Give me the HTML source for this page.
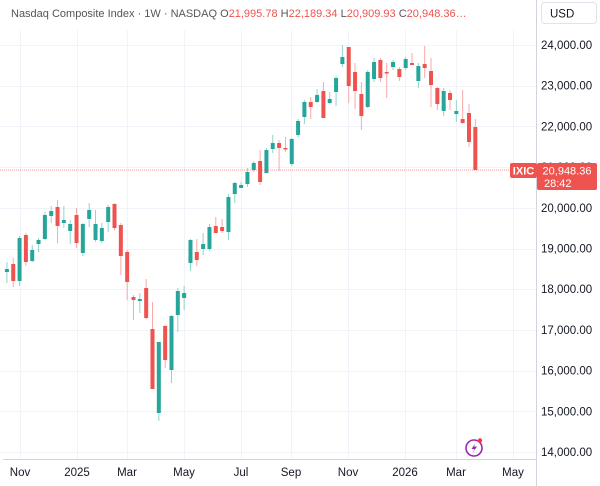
<!DOCTYPE html>
<html><head><meta charset="utf-8"><style>
html,body{margin:0;padding:0;background:#fff;width:600px;height:486px;overflow:hidden}
svg{display:block;font-family:"Liberation Sans",sans-serif}
</style></head><body>
<svg id="s" width="600" height="486" viewBox="0 0 600 486" xmlns="http://www.w3.org/2000/svg">
<rect width="600" height="486" fill="#fff"/>
<g id="grid" stroke="#f0f3fa" stroke-width="1"></g>
<line x1="536.5" y1="0" x2="536.5" y2="486" stroke="#d1d4dc"/>
<line x1="3" y1="459.5" x2="536" y2="459.5" stroke="#d1d4dc"/>
<g id="c"></g>
<line x1="0" y1="170" x2="536" y2="170" stroke="#ef5350" stroke-width="1" stroke-dasharray="1,1" opacity="0.6"/>
<text x="11" y="17" font-size="11" fill="#555">Nasdaq Composite Index · 1W · NASDAQ <tspan fill="#555">O</tspan><tspan fill="#ef5350">21,995.78</tspan> <tspan fill="#555">H</tspan><tspan fill="#ef5350">22,189.34</tspan> <tspan fill="#555">L</tspan><tspan fill="#ef5350">20,909.93</tspan> <tspan fill="#555">C</tspan><tspan fill="#ef5350">20,948.36…</tspan></text>
<rect x="541.5" y="2.5" width="55" height="21" rx="3" fill="#fff" stroke="#e0e3eb"/>
<text x="550" y="17.5" font-size="11.5" fill="#131722">USD</text>
<g id="yl" font-size="11.5" fill="#131722"></g>
<g font-size="11.5" fill="#131722" text-anchor="middle">
<text x="20" y="476">Nov</text><text x="77" y="476">2025</text><text x="127" y="476">Mar</text><text x="184" y="476">May</text><text x="241" y="476">Jul</text><text x="291" y="476">Sep</text><text x="348" y="476">Nov</text><text x="405" y="476">2026</text><text x="456" y="476">Mar</text><text x="513" y="476">May</text>
</g>
<rect x="510" y="163" width="27" height="15" rx="2" fill="#ef5350"/>
<text x="523.5" y="174.5" font-size="11" font-weight="bold" fill="#fff" text-anchor="middle">IXIC</text>
<rect x="537" y="163" width="60" height="27" rx="2" fill="#ef5350"/>
<text x="567" y="174.5" font-size="11" fill="#fff" text-anchor="middle">20,948.36</text>
<text x="544" y="187" font-size="11" fill="#fff">28:42</text>
<circle cx="474" cy="448" r="8" fill="none" stroke="#9c27b0" stroke-width="1.6"/>
<path d="M475.5 443 L471.5 449 L474.5 449 L472.5 453 L477 446.5 L474 446.5 Z" fill="#9c27b0"/>
<circle cx="480" cy="440.5" r="2.2" fill="#f23645"/>
</svg>
<script>
var ns="http://www.w3.org/2000/svg";
function el(p,t,a){var e=document.createElementNS(ns,t);for(var k in a)e.setAttribute(k,a[k]);p.appendChild(e);return e;}
var g=document.getElementById('grid'),yl=document.getElementById('yl');
[20,77,127,184,241,291,348,405,456,513].forEach(function(x){el(g,'line',{x1:x+.5,y1:30,x2:x+.5,y2:459});});
for(var v=24;v>=14;v--){var y=45+(24-v)*40.7;el(g,'line',{x1:0,y1:Math.round(y)+.5,x2:536,y2:Math.round(y)+.5});
var t=el(yl,'text',{x:541,y:y+4});t.textContent=v+",000.00";}
var d=[
['g',269,272,262,283],['r',264,281,258,287],['g',238,281,236,286],['r',235,262,233,266],['g',250,261,245,262],
['g',240,244,238,252],['g',215,239,212,240],['g',211,216,206,223],['r',207,226,200,243],['g',220,223,206,228],
['g',224,231,220,244],['r',215,243,208,248],['g',224,253,223,256],['g',210,219,203,227],['g',224,240,210,242],
['g',228,241,223,243],['g',207,222,205,232],['r',204,228,203,230],['r',225,256,223,275],['r',252,282,250,300],
['r',297,300,295,320],['g',299,301,293,313],['r',288,318,279,319],['r',329,389,302,389],['g',342,413,342,421],
['r',326,360,325,368],['g',316,370,315,383],['g',291,315,288,332],['g',293,298,286,310],['g',240,263,239,271],
['r',252,260,239,266],['g',244,249,233,255],['g',227,249,224,251],['r',226,233,217,233],['r',227,231,219,233],
['g',197,232,194,240],['g',183,194,182,203],['g',185,188,182,188],['g',172,184,168,187],['g',163,170,161,172],
['r',161,182,150,185],['g',150,173,148,173],['g',143,149,135,153],['r',143,148,140,171],['r',148,149,137,152],
['g',139,164,138,166],['g',121,135,119,137],['g',102,117,100,124],['r',102,107,97,119],['g',95,102,89,103],
['r',91,118,82,118],['g',99,103,92,104],['g',78,92,76,106],['g',57,64,45,67],['r',47,86,47,103],
['r',72,91,63,109],['r',94,116,82,130],['g',72,107,70,108],['g',62,79,58,82],['r',60,78,58,82],
['r',72,73,63,98],['g',62,67,60,70],['r',69,77,67,81],['g',59,68,57,70],['r',63,65,53,65],
['g',66,81,63,88],['r',64,68,46,78],['r',71,85,58,107],['r',88,104,87,110],['g',91,111,88,116],
['r',93,100,90,110],['g',111,114,100,122],['r',119,123,90,124],['r',113,142,104,147],['r',127,170,119,170]];
var c=document.getElementById('c');
d.forEach(function(k,i){var x=6.9+i*6.33;var col=k[0]=='g'?'#26a69a':'#ef5350';var wc=k[0]=='g'?'#8fd3cb':'#f7a9a7';
el(c,'line',{x1:x,y1:k[3],x2:x,y2:k[4],stroke:wc,'stroke-width':1});
el(c,'rect',{x:x-2,y:k[1],width:4,height:Math.max(1.5,k[2]-k[1]),fill:col});});
</script>
</body></html>
